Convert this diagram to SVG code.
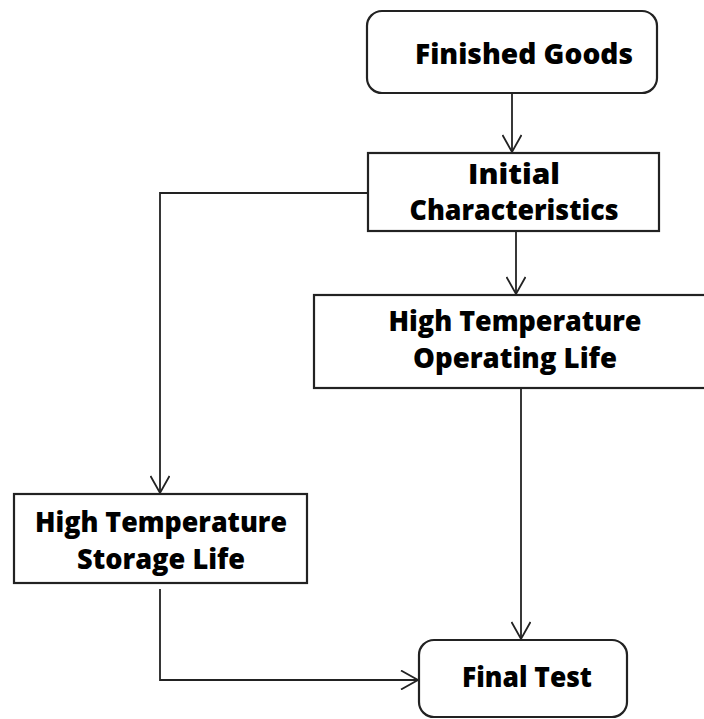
<svg xmlns="http://www.w3.org/2000/svg" width="704" height="719" viewBox="0 0 704 719">
<defs>
<style>
.box{fill:#fff;stroke:#222;stroke-width:2.2}
.lbl{font-family:"Open Sans","Liberation Sans",sans-serif;font-weight:800;font-size:28px;fill:#000;text-anchor:middle}
.con{fill:none;stroke:#222;stroke-width:1.8}
</style>
<marker id="arr" viewBox="0 0 20 20" refX="18" refY="10" markerWidth="20" markerHeight="20" orient="auto" markerUnits="userSpaceOnUse">
<path d="M1,0.5 L18,10 L1,19.5" fill="none" stroke="#222" stroke-width="1.8"/>
</marker>
</defs>
<rect width="704" height="719" fill="#fff"/>
<g id="connectors">
<path class="con" d="M512,93 V152" marker-end="url(#arr)"/>
<path class="con" d="M516,231 V294" marker-end="url(#arr)"/>
<path class="con" d="M368,193 H160 V493" marker-end="url(#arr)"/>
<path class="con" d="M521,388 V639" marker-end="url(#arr)"/>
<path class="con" d="M160,589 V680 H418" marker-end="url(#arr)"/>
</g>
<g id="finished-goods">
<rect class="box" x="367" y="11" width="290" height="82" rx="15"/>
<text class="lbl" x="524" y="64" textLength="218" lengthAdjust="spacingAndGlyphs">Finished Goods</text>
</g>
<g id="initial-characteristics">
<rect class="box" x="368" y="153" width="291" height="78"/>
<text class="lbl" x="514" y="184" textLength="92" lengthAdjust="spacingAndGlyphs">Initial</text>
<text class="lbl" x="514" y="220" textLength="209" lengthAdjust="spacingAndGlyphs">Characteristics</text>
</g>
<g id="htol">
<rect class="box" x="314" y="295" width="410" height="93"/>
<text class="lbl" x="515" y="331" textLength="253" lengthAdjust="spacingAndGlyphs">High Temperature</text>
<text class="lbl" x="515" y="368" textLength="204" lengthAdjust="spacingAndGlyphs">Operating Life</text>
</g>
<g id="htsl">
<rect class="box" x="14" y="494" width="293" height="89"/>
<text class="lbl" x="161" y="532" textLength="252" lengthAdjust="spacingAndGlyphs">High Temperature</text>
<text class="lbl" x="161" y="569" textLength="168" lengthAdjust="spacingAndGlyphs">Storage Life</text>
</g>
<g id="final-test">
<rect class="box" x="419" y="640" width="208" height="77" rx="15"/>
<text class="lbl" x="527" y="687" textLength="130" lengthAdjust="spacingAndGlyphs">Final Test</text>
</g>
</svg>
